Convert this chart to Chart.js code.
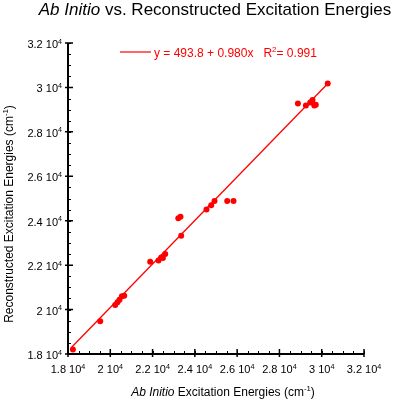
<html>
<head>
	<script src="https://cdn.jsdelivr.net/npm/chart.js@4.4.0/dist/chart.umd.min.js"></script>
	<style>
		body { margin: 0; background: #fff; }
		#wrap { position: relative; width: 396px; height: 400px; }
	</style>
</head>
<body>
	<div id="wrap"><canvas id="canvas" width="396" height="400"></canvas></div>
	<script>
		// points (cm-1)
		const abInitio = [18232, 19523, 20233, 20341, 20436, 20549, 20658, 21888, 22281, 22408, 22489, 22598,
			23217, 23321, 23354, 24551, 24773, 24929, 25530, 25828, 28874, 29252, 29456, 29565, 29650, 29720, 30284];
		const reconstructed = [18202, 19473, 20209, 20326, 20447, 20595, 20627, 22153, 22212, 22346, 22319, 22499,
			24115, 24174, 23321, 24501, 24699, 24892, 24892, 24892, 29279, 29189, 29323, 29430, 29190, 29220, 30177];
		// fit line end points
		const fitX = [18150, 30290];
		const fitY = [18280, 30180];
		const tickValues = [18000, 20000, 22000, 24000, 26000, 28000, 30000, 32000];
		const tickLabels = ['1.8', '2', '2.2', '2.4', '2.6', '2.8', '3', '3.2'];
		const fitText = 'y = 493.8 + 0.980x';
		const r2Text = '0.991';

		const FONT = '"Liberation Sans", Arial, sans-serif';

		function drawSup(ctx, base, sup, x, y, size, align) {
			ctx.font = `${size}px ${FONT}`;
			const w1 = ctx.measureText(base).width;
			ctx.font = `${size * 0.65}px ${FONT}`;
			const w2 = ctx.measureText(sup).width;
			let start = x;
			if (align === 'right') start = x - w1 - w2;
			if (align === 'center') start = x - (w1 + w2) / 2;
			ctx.textAlign = 'left';
			ctx.font = `${size}px ${FONT}`;
			ctx.fillText(base, start, y);
			ctx.font = `${size * 0.65}px ${FONT}`;
			ctx.fillText(sup, start + w1, y - size * 0.4);
		}

		// mixed-style text pieces [text, italic, superscript]
		function drawRich(ctx, parts, x, y, size) {
			const widths = parts.map(([t, it, sup]) => {
				ctx.font = `${it ? 'italic ' : ''}${sup ? size * 0.65 : size}px ${FONT}`;
				return ctx.measureText(t).width;
			});
			let cx = x - widths.reduce((a, b) => a + b, 0) / 2;
			ctx.textAlign = 'left';
			parts.forEach(([t, it, sup], i) => {
				ctx.font = `${it ? 'italic ' : ''}${sup ? size * 0.65 : size}px ${FONT}`;
				ctx.fillText(t, cx, sup ? y - size * 0.4 : y);
				cx += widths[i];
			});
		}

		const decor = {
			id: 'decor',
			afterDraw(chart) {
				const ctx = chart.ctx;
				const xs = chart.scales.x;
				const ys = chart.scales.y;
				const area = chart.chartArea;
				ctx.save();
				ctx.fillStyle = '#000';
				ctx.strokeStyle = '#000';
				ctx.textBaseline = 'alphabetic';

				// axes
				ctx.lineWidth = 2;
				ctx.beginPath();
				ctx.moveTo(area.left, area.top);
				ctx.lineTo(area.left, area.bottom);
				ctx.lineTo(area.right, area.bottom);
				ctx.stroke();

				// minor ticks
				ctx.lineWidth = 1;
				ctx.beginPath();
				for (let v = 18000; v <= 32000; v += 500) {
					const px = Math.round(xs.getPixelForValue(v)) + 0.5;
					const py = Math.round(ys.getPixelForValue(v)) + 0.5;
					ctx.moveTo(px, area.bottom);
					ctx.lineTo(px, area.bottom - 3);
					ctx.moveTo(area.left, py);
					ctx.lineTo(area.left + 3, py);
				}
				ctx.stroke();

				// major ticks + labels
				ctx.lineWidth = 1.5;
				ctx.beginPath();
				tickValues.forEach((v) => {
					const px = xs.getPixelForValue(v);
					const py = ys.getPixelForValue(v);
					ctx.moveTo(px, area.bottom + 3);
					ctx.lineTo(px, area.bottom - 5);
					ctx.moveTo(area.left - 3, py);
					ctx.lineTo(area.left + 5, py);
				});
				ctx.stroke();
				tickValues.forEach((v, i) => {
					const px = xs.getPixelForValue(v);
					const py = ys.getPixelForValue(v);
					drawSup(ctx, tickLabels[i] + ' 10', '4', px, area.bottom + 19, 11, 'center');
					drawSup(ctx, tickLabels[i] + ' 10', '4', area.left - 6, py + 5, 11, 'right');
				});

				// title
				drawRich(ctx, [['Ab Initio', true], [' vs. Reconstructed Excitation Energies', false]], 215, 15, 17);
				// x title
				drawRich(ctx, [['Ab Initio', true], [' Excitation Energies (cm', false], ['-1', false, true], [')', false]], 223, 396, 12);
				// y title
				ctx.save();
				ctx.translate(13, 214);
				ctx.rotate(-Math.PI / 2);
				drawRich(ctx, [['Reconstructed Excitation Energies (cm', false], ['-1', false, true], [')', false]], 0, 0, 12);
				ctx.restore();

				// legend
				ctx.strokeStyle = 'rgb(255,0,0)';
				ctx.fillStyle = 'rgb(255,0,0)';
				ctx.lineWidth = 1.2;
				ctx.beginPath();
				ctx.moveTo(120, 52);
				ctx.lineTo(151, 52);
				ctx.stroke();
				ctx.textAlign = 'left';
				ctx.font = `12px ${FONT}`;
				const t1 = fitText + '   R';
				ctx.fillText(t1, 154, 57);
				let wx = 154 + ctx.measureText(t1).width;
				ctx.font = `8px ${FONT}`;
				ctx.fillText('2', wx, 52);
				wx += ctx.measureText('2').width;
				ctx.font = `12px ${FONT}`;
				ctx.fillText('= ' + r2Text, wx, 57);
				ctx.restore();
			}
		};

		new Chart(document.getElementById('canvas'), {
			type: 'scatter',
			data: {
				datasets: [
					{
						label: 'data',
						data: abInitio.map((x, i) => ({ x, y: reconstructed[i] })),
						backgroundColor: '#ff0000',
						borderColor: '#ff0000',
						pointRadius: 3,
						pointBorderWidth: 0,
					},
					{
						label: 'fit',
						type: 'line',
						data: fitX.map((x, i) => ({ x, y: fitY[i] })),
						borderColor: '#ff0000',
						borderWidth: 1.3,
						pointRadius: 0,
						fill: false,
					},
				],
			},
			options: {
				responsive: false,
				animation: false,
				events: [],
				layout: { padding: { left: 68, right: 32, top: 43, bottom: 46 } },
				plugins: { legend: { display: false }, tooltip: { enabled: false }, title: { display: false } },
				scales: {
					x: {
						type: 'linear', min: 18000, max: 32000,
						grid: { display: false, drawTicks: false },
						border: { display: false },
						ticks: { display: false },
					},
					y: {
						type: 'linear', min: 18000, max: 32000,
						grid: { display: false, drawTicks: false },
						border: { display: false },
						ticks: { display: false },
					},
				},
			},
			plugins: [decor],
		});
	</script>
</body>
</html>
